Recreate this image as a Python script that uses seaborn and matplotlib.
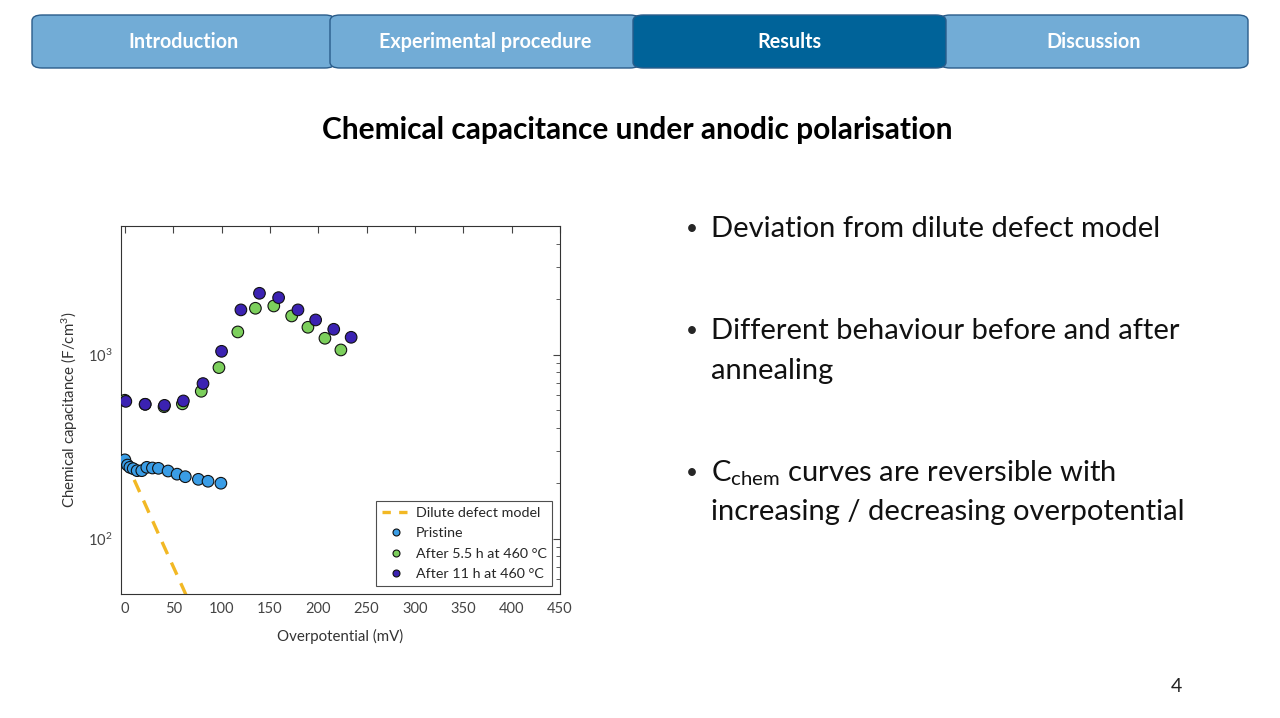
import pandas as pd
import matplotlib
matplotlib.use('Agg')
import matplotlib.pyplot as plt
from matplotlib.patches import FancyBboxPatch
from matplotlib.ticker import LogLocator, NullFormatter, MultipleLocator
import seaborn as sns

# Data
pristine_x = [0, 2.7, 5.2, 8.6, 12.7, 17.5, 22.7, 28.5, 34.7, 44.7, 54, 62.5, 76, 86, 99.3]
pristine_y = [268, 251, 244, 240, 234, 234, 244, 242, 241, 233, 224, 217, 210, 205, 200]

ann55_x = [0, 21, 40.5, 59.5, 79, 97.3, 116.8, 135, 154, 172.5, 189.3, 206.9, 223.4]
ann55_y = [565, 537, 521, 540, 632, 850, 1328, 1786, 1838, 1622, 1408, 1227, 1060]

ann11_x = [1, 21, 41, 60.5, 80.8, 100, 120, 139.2, 159, 179, 197.3, 216, 234]
ann11_y = [557, 537, 530, 560, 696, 1042, 1750, 2154, 2040, 1750, 1543, 1373, 1242]

dilute_x = [0, 20, 40, 60, 70]
dilute_y = [270, 158, 92, 54, 41]

series_names = ["Pristine", "After 5.5 h at 460 \u00b0C", "After 11 h at 460 \u00b0C"]
series_colors = ["#3a9de6", "#7ccf5c", "#3b22b2"]

tabs = ["Introduction", "Experimental procedure", "Results", "Discussion"]
active_tab = "Results"

bullets = [
    ["Deviation from dilute defect model"],
    ["Different behaviour before and after", "annealing"],
    ["C$_{\\mathrm{chem}}$ curves are reversible with", "increasing / decreasing overpotential"],
]

df = pd.concat([
    pd.DataFrame({"x": pristine_x, "y": pristine_y, "sample": series_names[0]}),
    pd.DataFrame({"x": ann55_x, "y": ann55_y, "sample": series_names[1]}),
    pd.DataFrame({"x": ann11_x, "y": ann11_y, "sample": series_names[2]}),
])
dilute = pd.DataFrame({"x": dilute_x, "y": dilute_y})

sns.set_theme(style="white")
plt.rcParams['font.family'] = ['Lato', 'DejaVu Sans']
plt.rcParams['mathtext.fontset'] = 'custom'
plt.rcParams['mathtext.rm'] = 'Lato'
plt.rcParams['mathtext.it'] = 'Lato:italic'
plt.rcParams['mathtext.bf'] = 'Lato:bold'

fig = plt.figure(figsize=(12.8, 7.18), dpi=100)
fig.patch.set_facecolor("white")

# Navigation tabs
W, H = 1280, 718
tab_edges = [(32, 335), (330, 640), (633, 946), (940, 1248)]
for name, (x0, x1) in zip(tabs, tab_edges):
    active = name == active_tab
    box = FancyBboxPatch((x0 / W, 1 - 68 / H), (x1 - x0) / W, 53 / H,
                         boxstyle="round,pad=0,rounding_size=0.008",
                         transform=fig.transFigure,
                         facecolor="#006399" if active else "#72acd6",
                         edgecolor="#2a5c8a", linewidth=1.0,
                         zorder=3 if active else 2)
    fig.patches.append(box)
    fig.text((x0 + x1) / 2 / W, 1 - 42 / H, name, ha="center", va="center",
             color="white", fontsize=14.2, fontweight="bold", zorder=4)

fig.text(637 / W, 1 - 130 / H, "Chemical capacitance under anodic polarisation",
         ha="center", va="center", fontsize=21.5, fontweight="bold", color="black")

# Bullets
line_y = [[229], [331, 371], [473, 512]]
for lines, ys in zip(bullets, line_y):
    fig.text(692 / W, 1 - ys[0] / H, "\u2022", ha="center", va="center", fontsize=15)
    for t, yy in zip(lines, ys):
        fig.text(711 / W, 1 - yy / H, t, ha="left", va="center", fontsize=21, color="#111111")

fig.text(1176 / W, 1 - 686 / H, "4", ha="center", va="center", fontsize=14, color="#222222")

# Chart
ax = fig.add_axes([121 / W, 1 - 594 / H, (560 - 121) / W, (594 - 226) / H])
sns.lineplot(data=dilute, x="x", y="y", ax=ax, color="#f2b824", linewidth=2.4,
             label="Dilute defect model", zorder=2)
ax.lines[0].set_dashes([4, 2.8])
sns.scatterplot(data=df, x="x", y="y", hue="sample", hue_order=series_names,
                palette=series_colors, s=70, edgecolor="#111111", linewidth=0.8,
                ax=ax, zorder=3)

ax.set_yscale("log")
ax.set_xlim(-4, 450)
ax.set_ylim(50, 5000)
ax.xaxis.set_major_locator(MultipleLocator(50))
ax.yaxis.set_major_locator(LogLocator(base=10))
ax.yaxis.set_minor_locator(LogLocator(base=10, subs=range(2, 10)))
ax.yaxis.set_minor_formatter(NullFormatter())
ax.tick_params(which="both", direction="in", top=True, right=True,
               colors="#444444", labelsize=10.5)
ax.tick_params(which="major", length=5, width=0.8, pad=6)
ax.tick_params(which="minor", length=3, width=0.6)
for s in ax.spines.values():
    s.set_color("#333333")
    s.set_linewidth(0.8)
ax.set_xlabel("Overpotential (mV)", fontsize=10.8, color="#333333", labelpad=9)
ax.set_ylabel("Chemical capacitance (F/cm$^3$)", fontsize=10.8, color="#333333", labelpad=6)

handles, labels = ax.get_legend_handles_labels()
leg = ax.legend(handles, labels, loc="lower right", fontsize=10.3, frameon=True,
                fancybox=False, edgecolor="#222222", markerscale=0.6,
                handlelength=2.0, handletextpad=0.35, borderpad=0.4,
                labelspacing=0.6, borderaxespad=0.55)
leg.get_frame().set_linewidth(0.8)
leg.get_lines()[0].set_dashes([2.5, 2.5])

fig.savefig("out.png", dpi=100)
